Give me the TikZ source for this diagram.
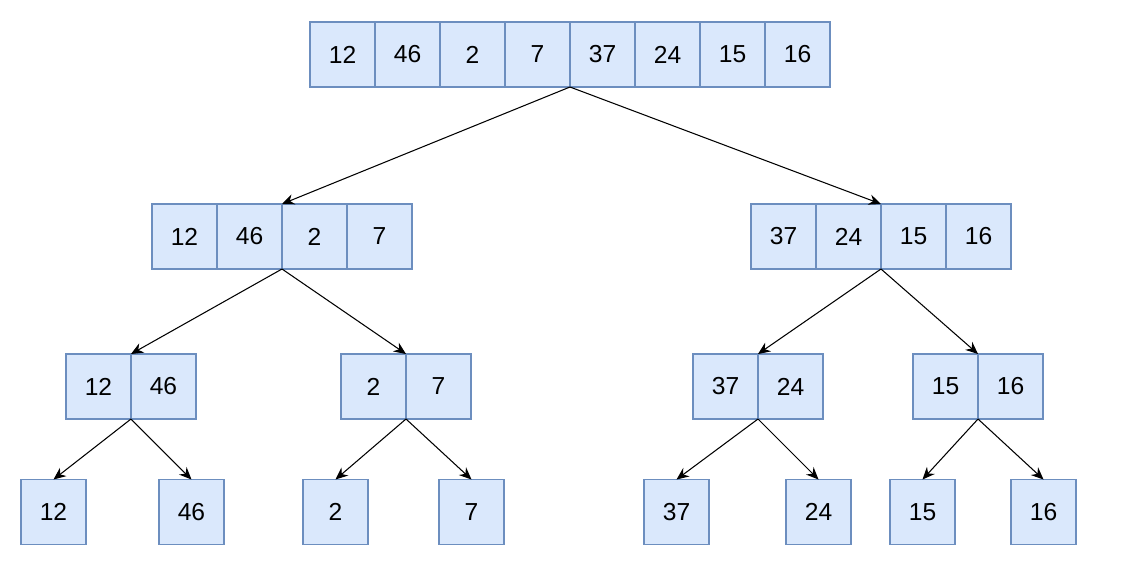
\documentclass[tikz,border=0pt]{standalone}
\usepackage{fontspec}
\setmainfont{Liberation Sans}
\usepackage{xcolor}
\usetikzlibrary{arrows.meta, positioning}

\definecolor{cellfill}{HTML}{DAE8FC}
\definecolor{cellline}{HTML}{6C8EBF}

\begin{document}
\begin{tikzpicture}[
  % ── Style definitions ──
  cell/.style={
    rectangle, minimum width=1.3cm, minimum height=1.3cm,
    inner sep=0pt, outer sep=0pt,
    draw=cellline, fill=cellfill, line width=0.6pt,
    font=\fontsize{14}{16}\selectfont
  },
  arr/.style={-{Stealth[length=7pt, width=6pt]}, line width=0.6pt, black},
  % ── Node placement ──
  node distance=0cm
]
\useasboundingbox (0,0) rectangle (22.86,-11.6);

% ─────────── Full array ──────────────────────────────────────
\node[cell] (t1) at (6.85,-1.09) {12};
\node[cell, right=of t1] (t2) {46};
\node[cell, right=of t2] (t3) {2};
\node[cell, right=of t3] (t4) {7};
\node[cell, right=of t4] (t5) {37};
\node[cell, right=of t5] (t6) {24};
\node[cell, right=of t6] (t7) {15};
\node[cell, right=of t7] (t8) {16};

% ─────────── Halves ──────────────────────────────────────────
\node[cell] (l1) at (3.69,-4.73) {12};
\node[cell, right=of l1] (l2) {46};
\node[cell, right=of l2] (l3) {2};
\node[cell, right=of l3] (l4) {7};

\node[cell] (r1) at (15.67,-4.73) {37};
\node[cell, right=of r1] (r2) {24};
\node[cell, right=of r2] (r3) {15};
\node[cell, right=of r3] (r4) {16};

% ─────────── Quarters ────────────────────────────────────────
\node[cell] (ll1) at (1.97,-7.73) {12};
\node[cell, right=of ll1] (ll2) {46};
\node[cell] (lr1) at (7.47,-7.73) {2};
\node[cell, right=of lr1] (lr2) {7};
\node[cell] (rl1) at (14.51,-7.73) {37};
\node[cell, right=of rl1] (rl2) {24};
\node[cell] (rr1) at (18.91,-7.73) {15};
\node[cell, right=of rr1] (rr2) {16};

% ─────────── Single elements ─────────────────────────────────
\node[cell] (s1) at (1.07,-10.24) {12};
\node[cell] (s2) at (3.83,-10.24) {46};
\node[cell] (s3) at (6.71,-10.24) {2};
\node[cell] (s4) at (9.43,-10.24) {7};
\node[cell] (s5) at (13.53,-10.24) {37};
\node[cell] (s6) at (16.37,-10.24) {24};
\node[cell] (s7) at (18.45,-10.24) {15};
\node[cell] (s8) at (20.87,-10.24) {16};

% ─────────── Split arrows ────────────────────────────────────
\draw[arr] (t4.south east) -- (l2.north east);
\draw[arr] (t4.south east) -- (r2.north east);

\draw[arr] (l2.south east) -- (ll1.north east);
\draw[arr] (l2.south east) -- (lr1.north east);
\draw[arr] (r2.south east) -- (rl1.north east);
\draw[arr] (r2.south east) -- (rr1.north east);

\draw[arr] (ll1.south east) -- (s1.north);
\draw[arr] (ll1.south east) -- (s2.north);
\draw[arr] (lr1.south east) -- (s3.north);
\draw[arr] (lr1.south east) -- (s4.north);
\draw[arr] (rl1.south east) -- (s5.north);
\draw[arr] (rl1.south east) -- (s6.north);
\draw[arr] (rr1.south east) -- (s7.north);
\draw[arr] (rr1.south east) -- (s8.north);
\end{tikzpicture}
\end{document}
